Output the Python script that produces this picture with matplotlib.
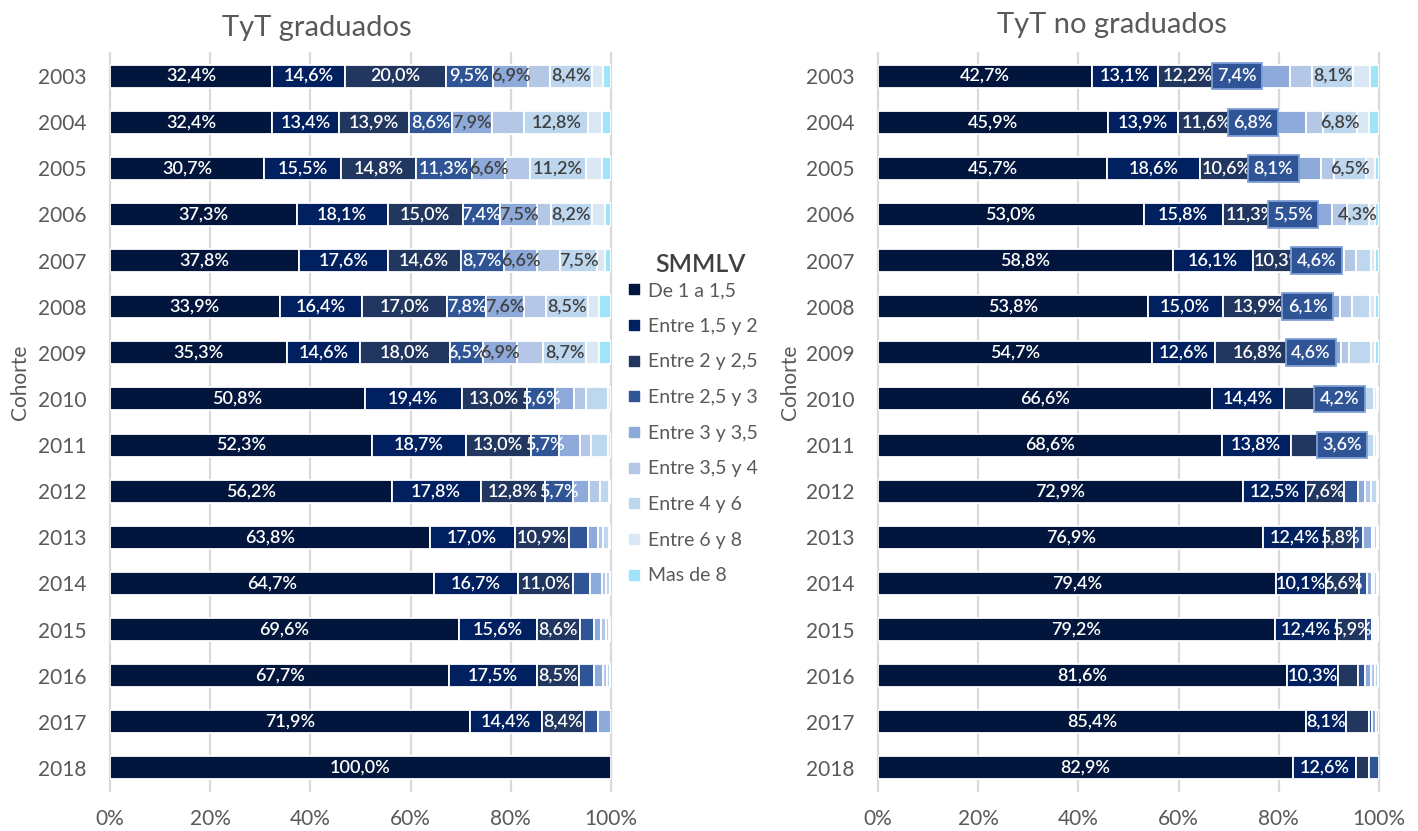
import matplotlib
matplotlib.use("Agg")
import matplotlib.pyplot as plt
import numpy as np
from matplotlib.lines import Line2D

plt.rcParams['font.family'] = ['Lato', 'DejaVu Sans']

cohorts = ["2003", "2004", "2005", "2006", "2007", "2008", "2009", "2010",
           "2011", "2012", "2013", "2014", "2015", "2016", "2017", "2018"]
series_names = ["De 1 a 1,5", "Entre 1,5 y 2", "Entre 2 y 2,5", "Entre 2,5 y 3",
                "Entre 3 y 3,5", "Entre 3,5 y 4", "Entre 4 y 6", "Entre 6 y 8", "Mas de 8"]
colors = ["#02153c", "#002060", "#22375f", "#2f5597", "#8eaadb",
          "#b4c7e7", "#bdd7ee", "#dae7f5", "#a0e4fa"]
label_colors = ["white", "white", "white", "white", "#404040",
                "#404040", "#404040", "#404040", "#404040"]

# TyT graduados (%)
grad_de1_15 = [32.4, 32.4, 30.7, 37.3, 37.8, 33.9, 35.3, 50.8, 52.3, 56.2, 63.8, 64.7, 69.6, 67.7, 71.9, 100.0]
grad_15_2   = [14.6, 13.4, 15.5, 18.1, 17.6, 16.4, 14.6, 19.4, 18.7, 17.8, 17.0, 16.7, 15.6, 17.5, 14.4, 0]
grad_2_25   = [20.0, 13.9, 14.8, 15.0, 14.6, 17.0, 18.0, 13.0, 13.0, 12.8, 10.9, 11.0, 8.6, 8.5, 8.4, 0]
grad_25_3   = [9.5, 8.6, 11.3, 7.4, 8.7, 7.8, 6.5, 5.6, 5.7, 5.7, 3.7, 3.5, 2.9, 3.0, 2.8, 0]
grad_3_35   = [6.9, 7.9, 6.6, 7.5, 6.6, 7.6, 6.9, 3.8, 4.1, 3.1, 2.0, 2.4, 1.3, 1.8, 2.5, 0]
grad_35_4   = [4.4, 6.5, 4.9, 2.7, 4.5, 4.3, 5.1, 2.5, 2.3, 2.2, 1.1, 0.8, 1.1, 0.8, 0, 0]
grad_4_6    = [8.4, 12.8, 11.2, 8.2, 7.5, 8.5, 8.7, 4.3, 3.3, 1.8, 1.1, 0.7, 0.6, 0.5, 0, 0]
grad_6_8    = [2.2, 2.7, 3.2, 2.6, 1.6, 2.2, 2.5, 0.6, 0.6, 0.4, 0.4, 0.2, 0.3, 0.2, 0, 0]
grad_mas8   = [1.6, 1.8, 1.8, 1.2, 1.1, 2.3, 2.4, 0, 0, 0, 0, 0, 0, 0, 0, 0]

# TyT no graduados (%)
nog_de1_15 = [42.7, 45.9, 45.7, 53.0, 58.8, 53.8, 54.7, 66.6, 68.6, 72.9, 76.9, 79.4, 79.2, 81.6, 85.4, 82.9]
nog_15_2   = [13.1, 13.9, 18.6, 15.8, 16.1, 15.0, 12.6, 14.4, 13.8, 12.5, 12.4, 10.1, 12.4, 10.3, 8.1, 12.6]
nog_2_25   = [12.2, 11.6, 10.6, 11.3, 10.3, 13.9, 16.8, 9.0, 8.4, 7.6, 5.8, 6.6, 5.9, 4.0, 4.6, 2.5]
nog_25_3   = [7.4, 6.8, 8.1, 5.5, 4.6, 6.1, 4.6, 4.2, 3.6, 2.8, 1.8, 1.6, 1.1, 1.4, 0.5, 2.0]
nog_3_35   = [6.8, 7.2, 5.5, 5.0, 3.2, 3.4, 3.7, 1.8, 1.6, 1.4, 1.7, 1.0, 0.4, 1.1, 0.9, 0]
nog_35_4   = [4.5, 3.4, 2.5, 3.1, 2.4, 2.5, 1.7, 1.3, 1.2, 1.2, 0.5, 0.4, 0.5, 0.8, 0, 0]
nog_4_6    = [8.1, 6.8, 6.5, 4.3, 3.1, 3.5, 4.3, 1.8, 1.9, 1.2, 0.5, 0.5, 0.3, 0.6, 0.5, 0]
nog_6_8    = [3.5, 2.4, 1.7, 1.2, 0.7, 1.0, 0.8, 0.5, 0.5, 0.4, 0.2, 0.2, 0.2, 0.2, 0, 0]
nog_mas8   = [1.7, 2.0, 0.8, 0.8, 0.8, 0.8, 0.8, 0.4, 0.4, 0, 0.2, 0.2, 0, 0, 0, 0]

# which data labels are shown (1 = shown)
grad_show = [
    [1] * 16,
    [1] * 15 + [0],
    [1] * 15 + [0],
    [1] * 10 + [0] * 6,
    [1] * 7 + [0] * 9,
    [0] * 16,
    [1] * 7 + [0] * 9,
    [0] * 16,
    [0] * 16,
]
nog_show = [
    [1] * 16,
    [1] * 16,
    [1, 1, 1, 1, 1, 1, 1, 0, 0, 1, 1, 1, 1, 0, 0, 0],
    [1] * 9 + [0] * 7,
    [0] * 16,
    [0] * 16,
    [1] * 4 + [0] * 12,
    [0] * 16,
    [0] * 16,
]

grad = [grad_de1_15, grad_15_2, grad_2_25, grad_25_3, grad_3_35, grad_35_4, grad_4_6, grad_6_8, grad_mas8]
nog = [nog_de1_15, nog_15_2, nog_2_25, nog_25_3, nog_3_35, nog_35_4, nog_4_6, nog_6_8, nog_mas8]

W, H = 1418, 831
fig = plt.figure(figsize=(W / 100, H / 100), dpi=100)
axL = fig.add_axes([110 / W, 1 - 791 / H, 501 / W, 738 / H])
axR = fig.add_axes([878 / W, 1 - 791 / H, 501 / W, 738 / H])

TXT = "#595959"


def fmt(v):
    return f"{v:.1f}%".replace(".", ",")


def draw(ax, data, show, boxed=None):
    n = len(cohorts)
    y = np.arange(n)
    left = np.zeros(n)
    for i, vals in enumerate(data):
        vals = np.array(vals, dtype=float)
        nz = vals > 0
        ax.barh(y[nz], vals[nz], left=left[nz], height=0.5, color=colors[i],
                edgecolor="white", linewidth=1.3, zorder=2)
        for j in range(n):
            if show[i][j] and vals[j] > 0:
                kw = {}
                if boxed is not None and i == boxed:
                    kw["bbox"] = dict(boxstyle="square,pad=0.3", facecolor=colors[i],
                                      edgecolor="#7f9fd6", linewidth=1.3)
                ax.text(left[j] + vals[j] / 2, y[j], fmt(vals[j]), ha="center", va="center",
                        color=label_colors[i], fontsize=13, fontweight="semibold",
                        zorder=5 + i, **kw)
        left += vals
    ax.set_xlim(0, 100)
    ax.set_ylim(n - 0.5, -0.5)
    ax.set_yticks(y)
    ax.set_yticklabels(cohorts)
    ax.set_xticks([0, 20, 40, 60, 80, 100])
    ax.set_xticklabels(["0%", "20%", "40%", "60%", "80%", "100%"])
    ax.tick_params(axis="y", length=0, pad=17, labelsize=15, labelcolor=TXT)
    ax.tick_params(axis="x", length=0, pad=13, labelsize=15, labelcolor=TXT)
    for s in ax.spines.values():
        s.set_visible(False)
    ax.grid(axis="x", color="#d9d9d9", linewidth=1.6, zorder=0)
    ax.set_axisbelow(True)
    for gl in ax.get_xgridlines():
        gl.set_clip_on(False)


draw(axL, grad, grad_show)
draw(axR, nog, nog_show, boxed=3)

fig.text(317 / W, 1 - 28 / H, "TyT graduados", ha="center", va="center", fontsize=21, color=TXT)
fig.text(1112 / W, 1 - 25 / H, "TyT no graduados", ha="center", va="center", fontsize=21, color=TXT)
fig.text(20 / W, 1 - 382 / H, "Cohorte", rotation=90, ha="center", va="center", fontsize=15, color=TXT)
fig.text(790 / W, 1 - 382 / H, "Cohorte", rotation=90, ha="center", va="center", fontsize=15, color=TXT)
fig.text(701 / W, 1 - 265 / H, "SMMLV", ha="center", va="center", fontsize=18,
         fontweight="semibold", color="#404040")

handles = [Line2D([], [], marker="s", linestyle="none", markersize=7.5, color=c) for c in colors]
leg = fig.legend(handles, series_names, loc="upper left", bbox_to_anchor=(628 / W, 1 - 282 / H),
                 frameon=False, fontsize=14,
                 labelspacing=0.96, handlelength=0.6, handletextpad=0.45, borderpad=0,
                 borderaxespad=0)
for t in leg.get_texts():
    t.set_color(TXT)

fig.savefig("out.png", dpi=100)
